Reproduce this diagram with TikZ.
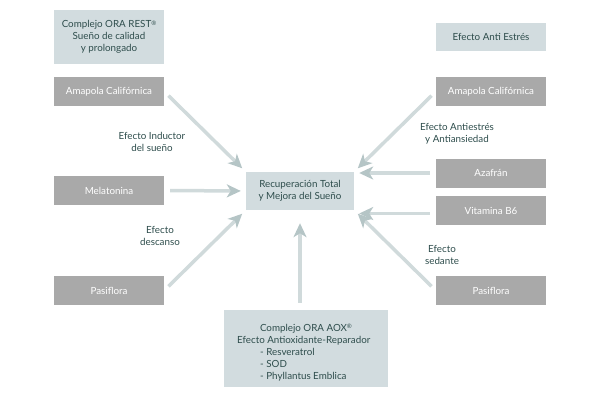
\documentclass[tikz,border=0pt]{standalone}
\usepackage{fontspec}
\setmainfont{Lato}
\usetikzlibrary{arrows.meta}
\definecolor{txt}{HTML}{2E4D4C}
\definecolor{greybox}{HTML}{A9A9A9}
\definecolor{lightbox}{HTML}{D2DCDF}
\definecolor{shaft}{HTML}{D0DADB}
\definecolor{head}{HTML}{B5C5C6}
\newcommand{\reg}{\raisebox{0.45ex}{\fontsize{6}{6}\selectfont ®}}
\tikzset{
  base/.style={inner sep=0pt, align=center, font=\fontsize{9.8}{12}\selectfont},
  greyb/.style={base, fill=greybox, text=white, minimum width=110pt, minimum height=29pt},
  lightb/.style={base, fill=lightbox, text=txt},
  lbl/.style={base, text=txt},
  arr/.style={draw=shaft, line width=3.5pt, -{Stealth[length=14pt,width=13pt,inset=4pt,color=head]}, shorten <=6pt, shorten >=5pt}
}
\begin{document}
\begin{tikzpicture}[x=1pt,y=-1pt]
\useasboundingbox (0,0) rectangle (600,400);
% left column
\node[lightb, minimum width=110pt, minimum height=54pt] (rest) at (109,37) {Complejo ORA REST\reg\\Sueño de calidad\\y prolongado};
\node[greyb] (amL) at (109,91.5) {Amapola Califórnica};
\node[greyb] (mel) at (109,190.5) {Melatonina};
\node[greyb] (pasL) at (109,290.5) {Pasiflora};
% right column
\node[lightb, minimum width=110pt, minimum height=28pt] (anti) at (491,37) {Efecto Anti Estrés};
\node[greyb] (amR) at (491,91.5) {Amapola Califórnica};
\node[greyb] (aza) at (491,173) {Azafrán};
\node[greyb] (vit) at (491,210.5) {Vitamina B6};
\node[greyb] (pasR) at (491,290.5) {Pasiflora};
% center
\node[lightb, minimum width=108pt, minimum height=38pt] (ctr) at (300,191) {Recuperación Total\\y Mejora del Sueño};
% bottom
\node[lightb, minimum width=164pt, minimum height=77pt] (aox) at (306,348.5) {};
\node[lbl, anchor=base] (aox1) at (306,331) {Complejo ORA AOX\reg};
\node[lbl, anchor=base west] (aox2) at (237,343) {Efecto Antioxidante-Reparador};
\node[lbl, anchor=base west] (aox3) at (260,355) {- Resveratrol};
\node[lbl, anchor=base west] (aox4) at (260,367) {- SOD};
\node[lbl, anchor=base west] (aox5) at (260,379) {- Phyllantus Emblica};
% labels
\node[lbl] (l1) at (152,142) {Efecto Inductor\\del sueño};
\node[lbl] (l2) at (160,236) {Efecto\\descanso};
\node[lbl] (l3) at (457,134) {Efecto Antiestrés\\y Antiansiedad};
\node[lbl] (l4) at (442,255) {Efecto\\sedante};
% arrows
\draw[arr] (amL.east) -- (ctr.north west);
\draw[arr] (mel.east) -- (ctr.west);
\draw[arr] (pasL.east) -- (ctr.south west);
\draw[arr] (amR.west) -- (ctr.north east);
\draw[arr] (aza.west) -- (aza.west -| ctr.east);
\draw[arr] ([yshift=-3pt]vit.west) -- ([yshift=-3pt]vit.west -| ctr.east);
\draw[arr] (pasR.west) -- (ctr.south east);
\draw[arr, shorten <=7pt, shorten >=13pt] (aox.north -| ctr.south) -- (ctr.south);
\end{tikzpicture}
\end{document}
